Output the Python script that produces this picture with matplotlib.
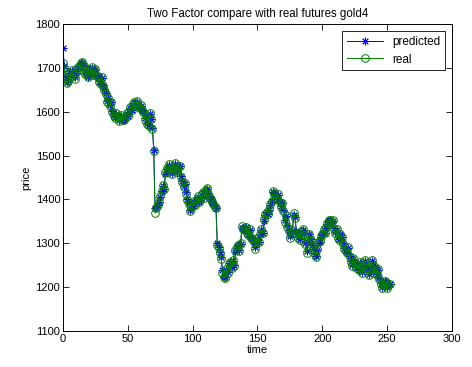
import numpy as np
import matplotlib
matplotlib.use("Agg")
import matplotlib.pyplot as plt

plt.rcParams['font.family'] = ['Liberation Sans', 'DejaVu Sans']

# valores (t = 0..252)
real = [1710, 1700, 1675, 1665, 1670, 1690, 1680, 1695, 1685, 1675,
        1690, 1700, 1705, 1695, 1710, 1712, 1705, 1685, 1690, 1678,
        1698, 1688, 1702, 1683, 1692, 1697, 1682, 1680, 1668, 1662,
        1678, 1658, 1650, 1640, 1622, 1632, 1612, 1622, 1598, 1590,
        1585, 1597, 1590, 1578, 1587, 1592, 1580, 1582, 1588, 1597,
        1590, 1602, 1610, 1603, 1617, 1622, 1615, 1624, 1613, 1608,
        1614, 1603, 1600, 1582, 1592, 1572, 1568, 1597, 1583, 1560,
        1510, 1370, 1380, 1387, 1393, 1407, 1420, 1432, 1423, 1462,
        1472, 1463, 1480, 1470, 1458, 1472, 1482, 1473, 1463, 1472,
        1477, 1450, 1440, 1428, 1437, 1413, 1398, 1390, 1373, 1382,
        1385, 1397, 1388, 1402, 1407, 1393, 1400, 1412, 1417, 1403,
        1422, 1426, 1413, 1403, 1400, 1393, 1390, 1383, 1380, 1295,
        1290, 1278, 1265, 1233, 1223, 1220, 1242, 1233, 1252, 1257,
        1243, 1262, 1248, 1285, 1292, 1297, 1283, 1300, 1340, 1333,
        1330, 1337, 1323, 1318, 1332, 1313, 1310, 1303, 1288, 1302,
        1312, 1303, 1322, 1332, 1323, 1355, 1367, 1372, 1366, 1377,
        1390, 1397, 1420, 1413, 1403, 1400, 1412, 1393, 1383, 1392,
        1373, 1348, 1365, 1338, 1328, 1313, 1322, 1330, 1370, 1358,
        1323, 1313, 1322, 1308, 1327, 1332, 1318, 1298, 1278, 1307,
        1322, 1308, 1293, 1285, 1273, 1268, 1287, 1302, 1305, 1317,
        1322, 1332, 1323, 1337, 1347, 1352, 1353, 1346, 1352, 1333,
        1323, 1332, 1313, 1308, 1322, 1315, 1298, 1288, 1283, 1278,
        1292, 1268, 1258, 1248, 1267, 1253, 1243, 1252, 1238, 1257,
        1243, 1233, 1252, 1262, 1243, 1238, 1228, 1247, 1262, 1250,
        1233, 1247, 1228, 1242, 1218, 1208, 1198, 1207, 1215, 1210,
        1198, 1205, 1208]

predicted = [1745, 1703, 1680, 1668, 1672, 1688, 1682, 1693, 1687, 1678,
             1688, 1698, 1703, 1697, 1708, 1710, 1706, 1688, 1689, 1680,
             1696, 1689, 1700, 1685, 1691, 1695, 1684, 1681, 1670, 1664,
             1676, 1660, 1652, 1642, 1625, 1631, 1614, 1621, 1601, 1592,
             1587, 1595, 1590, 1580, 1586, 1590, 1582, 1583, 1587, 1595,
             1591, 1600, 1608, 1604, 1615, 1620, 1616, 1622, 1614, 1609,
             1613, 1604, 1601, 1585, 1591, 1575, 1570, 1594, 1584, 1563,
             1513, 1380, 1382, 1388, 1393, 1405, 1418, 1430, 1424, 1458,
             1470, 1464, 1478, 1471, 1460, 1470, 1480, 1474, 1465, 1471,
             1475, 1453, 1442, 1430, 1436, 1416, 1401, 1392, 1376, 1381,
             1384, 1395, 1389, 1400, 1406, 1395, 1399, 1410, 1415, 1405,
             1420, 1424, 1414, 1405, 1401, 1394, 1391, 1384, 1381, 1300,
             1291, 1280, 1268, 1238, 1226, 1222, 1239, 1234, 1250, 1256,
             1245, 1260, 1250, 1281, 1290, 1295, 1285, 1298, 1335, 1334,
             1331, 1336, 1325, 1320, 1330, 1315, 1311, 1304, 1291, 1300,
             1310, 1304, 1320, 1330, 1324, 1351, 1365, 1371, 1367, 1375,
             1388, 1396, 1416, 1414, 1405, 1401, 1410, 1395, 1385, 1391,
             1376, 1352, 1362, 1341, 1330, 1316, 1320, 1329, 1365, 1359,
             1327, 1315, 1321, 1310, 1325, 1330, 1320, 1301, 1282, 1304,
             1320, 1309, 1295, 1286, 1275, 1270, 1285, 1300, 1304, 1315,
             1320, 1330, 1324, 1335, 1345, 1350, 1352, 1347, 1351, 1335,
             1325, 1331, 1315, 1310, 1320, 1315, 1300, 1290, 1285, 1280,
             1290, 1271, 1260, 1250, 1264, 1255, 1245, 1250, 1240, 1255,
             1245, 1235, 1250, 1260, 1245, 1240, 1230, 1245, 1259, 1251,
             1236, 1245, 1230, 1240, 1221, 1210, 1200, 1206, 1213, 1211,
             1200, 1204, 1207]

tiempo = np.arange(len(real))

fig = plt.figure(figsize=(4.72, 3.67), dpi=100)
ax = fig.add_axes([0.1335, 0.098, 0.824, 0.837])

# asterisco estilo matlab (8 brazos)
ax.plot(tiempo, predicted, '-', marker=(8, 2, 0), color='#0000ff', lw=0.7, ms=5.5, mew=0.7,
        label='predicted')
ax.plot(tiempo, real, '-o', color='#008000', lw=0.7, ms=5.5, mew=0.7, mfc='none', label='real')

ax.set_xlim(0, 300)
ax.set_ylim(1100, 1800)
ax.set_xticks(np.arange(0, 301, 50))
ax.set_yticks(np.arange(1100, 1801, 100))
ax.tick_params(direction='in', top=True, right=True, length=4, width=0.6, labelsize=8, pad=2)
for s in ax.spines.values():
    s.set_linewidth(0.7)
ax.set_title("Two Factor compare with real futures gold4", fontsize=8.3, pad=5)
ax.set_xlabel("time", fontsize=8, labelpad=1)
ax.set_ylabel("price", fontsize=8, labelpad=3)

leg = ax.legend(loc='upper right', fontsize=8.5, fancybox=False, edgecolor='black',
                framealpha=1, borderaxespad=0.6, handlelength=3)
leg.get_frame().set_linewidth(0.6)

fig.savefig("out.png", dpi=100)
